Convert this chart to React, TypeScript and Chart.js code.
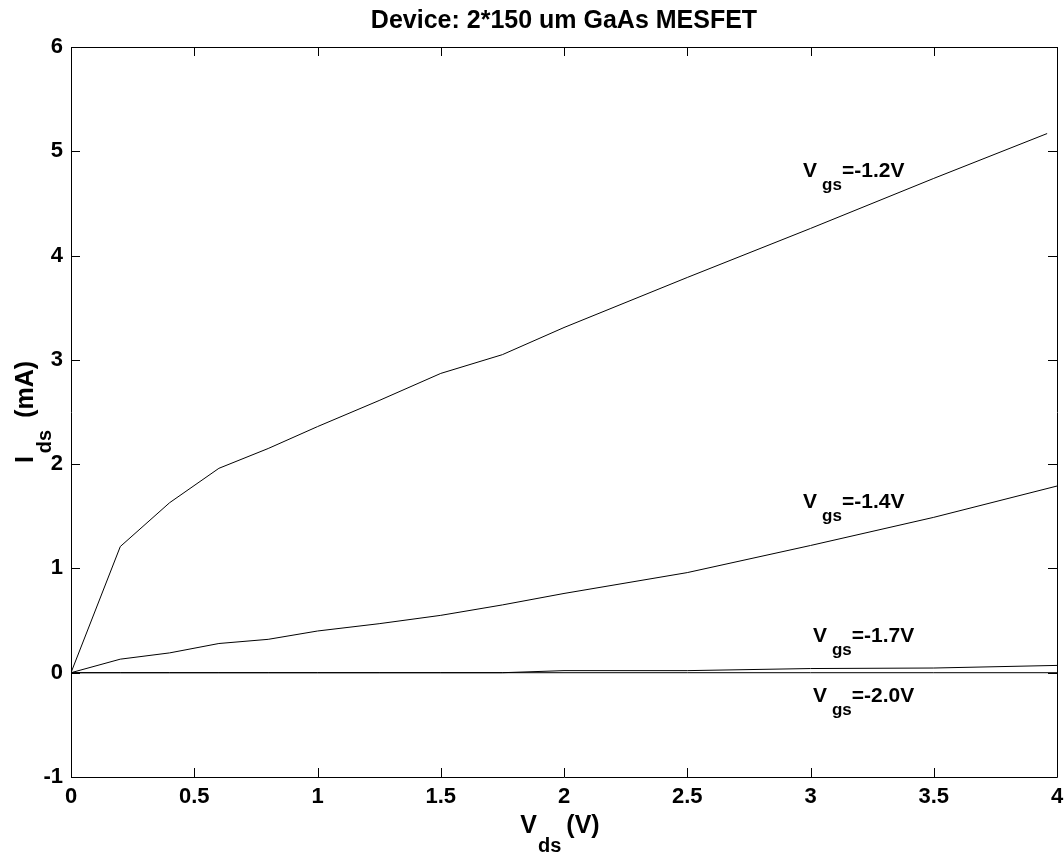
import React, { useEffect, useRef } from "react";
import { Chart, registerables } from "chart.js";

Chart.register(...registerables);

const TITLE = "Device: 2*150 um GaAs MESFET";
const vds = [0, 0.2, 0.4, 0.6, 0.8, 1.0, 1.25, 1.5, 1.75, 2.0, 2.5, 3.0, 3.5, 4.0];
const vds12 = [0, 0.2, 0.4, 0.6, 0.8, 1.0, 1.25, 1.5, 1.75, 2.0, 2.5, 3.0, 3.5, 3.96];
const ids12 = [0, 1.21, 1.63, 1.96, 2.15, 2.36, 2.61, 2.87, 3.05, 3.31, 3.79, 4.26, 4.74, 5.17];
const ids14 = [0, 0.13, 0.19, 0.28, 0.32, 0.4, 0.47, 0.55, 0.65, 0.76, 0.96, 1.22, 1.49, 1.79];
const ids17 = [0, 0, 0, 0, 0, 0, 0, 0, 0, 0.02, 0.02, 0.04, 0.045, 0.07];
const ids20 = [0, 0, 0, 0, 0, 0, 0, 0, 0, 0, 0, 0, 0, 0];

const labelTexts = ["=-1.2V", "=-1.4V", "=-1.7V", "=-2.0V"];
const labelX = [2.97, 2.97, 3.01, 3.01];
const labelY = [4.75, 1.58, 0.29, -0.28];

const xTicks = [0, 0.5, 1, 1.5, 2, 2.5, 3, 3.5, 4];
const xTickLabels = ["0", "0.5", "1", "1.5", "2", "2.5", "3", "3.5", "4"];
const yTicks = [-1, 0, 1, 2, 3, 4, 5, 6];
const yTickLabels = ["-1", "0", "1", "2", "3", "4", "5", "6"];

const FONT = "'Liberation Sans', Arial, Helvetica, sans-serif";

function toPts(xs: number[], ys: number[]) {
  return xs.map((x, i) => ({ x, y: ys[i] }));
}

const decorPlugin = {
  id: "decor",
  afterDraw(chart: any) {
    const ctx = chart.ctx as CanvasRenderingContext2D;
    const { left, top, right, bottom } = chart.chartArea;
    const xs = chart.scales.x;
    const ys = chart.scales.y;
    ctx.save();
    ctx.strokeStyle = "#000";
    ctx.lineWidth = 1;
    ctx.beginPath();
    ctx.rect(Math.round(left) + 0.5, Math.round(top) + 0.5, Math.round(right - left), Math.round(bottom - top));
    ctx.stroke();
    const tl = 9;
    ctx.beginPath();
    xTicks.forEach((v) => {
      const p = Math.round(xs.getPixelForValue(v)) + 0.5;
      ctx.moveTo(p, bottom);
      ctx.lineTo(p, bottom - tl);
      ctx.moveTo(p, top);
      ctx.lineTo(p, top + tl);
    });
    yTicks.forEach((v) => {
      const p = Math.round(ys.getPixelForValue(v)) + 0.5;
      ctx.moveTo(left, p);
      ctx.lineTo(left + tl, p);
      ctx.moveTo(right, p);
      ctx.lineTo(right - tl, p);
    });
    ctx.stroke();

    ctx.fillStyle = "#000";
    // tick labels
    ctx.font = `bold 22px ${FONT}`;
    ctx.textAlign = "center";
    ctx.textBaseline = "alphabetic";
    xTicks.forEach((v, i) => {
      const p = xs.getPixelForValue(v);
      ctx.fillText(xTickLabels[i], p, bottom + 26);
    });
    ctx.textAlign = "right";
    ctx.textBaseline = "middle";
    yTicks.forEach((v, i) => {
      const p = ys.getPixelForValue(v);
      ctx.fillText(yTickLabels[i], left - 8, p);
    });

    ctx.textBaseline = "alphabetic";
    ctx.textAlign = "left";
    const big = `bold 21px ${FONT}`;
    const small = `bold 17px ${FONT}`;
    labelTexts.forEach((t, i) => {
      const x0 = xs.getPixelForValue(labelX[i]);
      const y0 = ys.getPixelForValue(labelY[i]);
      ctx.font = big;
      ctx.fillText("V", x0, y0);
      let x = x0 + ctx.measureText("V").width + 5;
      ctx.font = small;
      ctx.fillText("gs", x, y0 + 13);
      x += ctx.measureText("gs").width;
      ctx.font = big;
      ctx.fillText(t, x, y0);
    });

    // title
    ctx.font = `bold 25px ${FONT}`;
    ctx.textAlign = "center";
    ctx.fillText(TITLE, (left + right) / 2, 28);

    // axis titles
    const tBig = `bold 25px ${FONT}`;
    const tSmall = `bold 20px ${FONT}`;
    ctx.textAlign = "left";
    ctx.font = tBig;
    const wV = ctx.measureText("V").width;
    const wR = ctx.measureText("(V)").width;
    ctx.font = tSmall;
    const wds = ctx.measureText("ds").width;
    const total = wV + 1 + wds + 5 + wR;
    const cx = (left + right) / 2 - 4;
    const startX = cx - total / 2;
    ctx.font = tBig;
    ctx.fillText("V", startX, 833);
    ctx.font = tSmall;
    ctx.fillText("ds", startX + wV + 1, 852);
    ctx.font = tBig;
    ctx.fillText("(V)", startX + wV + 1 + wds + 5, 833);

    ctx.save();
    ctx.translate(33, (top + bottom) / 2);
    ctx.rotate(-Math.PI / 2);
    ctx.font = tBig;
    const wI = ctx.measureText("I").width;
    const wmA = ctx.measureText("(mA)").width;
    ctx.font = tSmall;
    const wds2 = ctx.measureText("ds").width;
    const tot2 = wI + 3 + wds2 + 12 + wmA;
    const sx = -tot2 / 2;
    ctx.font = tBig;
    ctx.fillText("I", sx, 0);
    ctx.font = tSmall;
    ctx.fillText("ds", sx + wI + 3, 18);
    ctx.font = tBig;
    ctx.fillText("(mA)", sx + wI + 3 + wds2 + 12, 0);
    ctx.restore();

    ctx.restore();
  },
};

export default function App() {
  const ref = useRef<HTMLCanvasElement | null>(null);
  useEffect(() => {
    if (!ref.current) return;
    const ds = (data: { x: number; y: number }[]) => ({
      data,
      borderColor: "#000",
      borderWidth: 1,
      pointRadius: 0,
      fill: false,
      tension: 0,
    });
    const chart = new Chart(ref.current, {
      type: "line",
      data: {
        datasets: [
          ds(toPts(vds12, ids12)),
          ds(toPts(vds, ids14)),
          ds(toPts(vds, ids17)),
          ds(toPts(vds, ids20)),
        ],
      },
      options: {
        animation: false,
        responsive: true,
        maintainAspectRatio: false,
        layout: { padding: { top: 47, right: 7, left: 0, bottom: 0 } },
        plugins: { legend: { display: false }, tooltip: { enabled: false }, title: { display: false } },
        scales: {
          x: {
            type: "linear",
            min: 0,
            max: 4,
            grid: { display: false },
            border: { display: false },
            ticks: { display: false },
            afterFit: (s: any) => {
              s.height = 78;
            },
          },
          y: {
            type: "linear",
            min: -1,
            max: 6,
            grid: { display: false },
            border: { display: false },
            ticks: { display: false },
            afterFit: (s: any) => {
              s.width = 71;
            },
          },
        },
      },
      plugins: [decorPlugin],
    } as any);
    return () => chart.destroy();
  }, []);
  return (
    <div style={{ position: "absolute", left: 0, top: 0, width: 1064, height: 855, background: "#fff" }}>
      <canvas ref={ref} />
    </div>
  );
}
